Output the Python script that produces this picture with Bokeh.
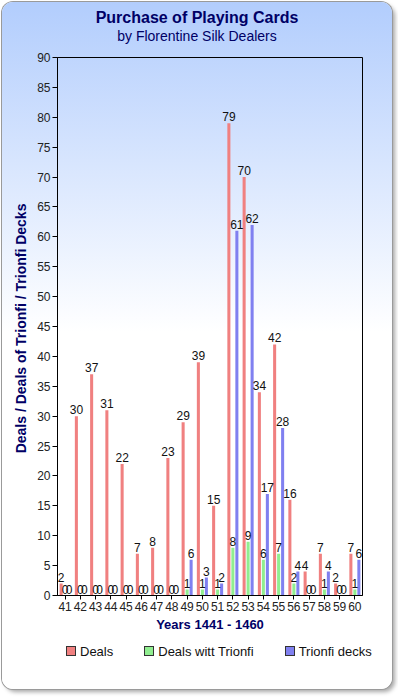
from bokeh.plotting import figure
from bokeh.layouts import column
from bokeh.models import (ColumnDataSource, FactorRange, Range1d, SingleIntervalTicker,
                          LabelSet, Div)
from bokeh.transform import dodge
from bokeh.core.properties import value
from bokeh.embed import file_html
from bokeh.resources import INLINE

# ---- data ----
years = ["41", "42", "43", "44", "45", "46", "47", "48", "49", "50",
         "51", "52", "53", "54", "55", "56", "57", "58", "59", "60"]
deals = [2, 30, 37, 31, 22, 7, 8, 23, 29, 39, 15, 79, 70, 34, 42, 16, 4, 7, 2, 7]
deals_trionfi = [0, 0, 0, 0, 0, 0, 0, 0, 1, 1, 1, 8, 9, 6, 7, 2, 0, 1, 0, 1]
trionfi_decks = [0, 0, 0, 0, 0, 0, 0, 0, 6, 3, 2, 61, 62, 17, 28, 4, 0, 4, 0, 6]
series_names = ["Deals", "Deals witt Trionfi", "Trionfi decks"]
colors = ["#f08080", "#90ee90", "#8080f0"]
title_text = "Purchase of Playing Cards"
subtitle_text = "by Florentine Silk Dealers"
x_label = "Years 1441 - 1460"
y_label = "Deals / Deals of Trionfi /  Trionfi Decks"

FONT = "Liberation Sans"
NAVY = "#000066"
W = 390
BL, BR = 55, 30   # side borders of the chart frame


def bare(fig):
    fig.background_fill_color = None
    fig.border_fill_color = None
    fig.outline_line_color = None
    fig.xgrid.visible = False
    fig.ygrid.visible = False
    return fig


# ---- title strip (its frame is aligned with the chart frame: map pixels 55..360) ----
t = bare(figure(width=W, height=47, output_backend="svg", toolbar_location=None,
                x_range=Range1d(BL, W - BR), y_range=Range1d(47, 0),
                x_axis_location=None, y_axis_location=None,
                min_border=0, min_border_left=BL, min_border_right=BR,
                min_border_top=0, min_border_bottom=0))
t.text(x=[W / 2 - 0.5], y=[15], text=[title_text], text_align="center", text_baseline="middle",
       text_font=value(FONT), text_font_size="16px", text_font_style="bold", text_color=NAVY)
t.text(x=[W / 2 - 0.5], y=[33], text=[subtitle_text], text_align="center", text_baseline="middle",
       text_font=value(FONT), text_font_size="14px", text_color=NAVY)

# ---- main chart ----
p = figure(x_range=FactorRange(*years, range_padding=0), y_range=Range1d(0, 90),
           width=W, height=588, output_backend="svg", toolbar_location=None,
           min_border_left=BL, min_border_right=BR, min_border_top=8, min_border_bottom=42)
bare(p)
p.outline_line_color = "black"
p.outline_line_alpha = 1

offsets = [-0.262, 0.0, 0.262]
for vals, off, col in zip([deals, deals_trionfi, trionfi_decks], offsets, colors):
    src = ColumnDataSource(dict(x=years, top=vals, lab=[str(v) for v in vals]))
    p.vbar(x=dodge("x", off, range=p.x_range), top="top", width=0.2, source=src,
           fill_color=col, line_color=None)
    ls = LabelSet(x=dodge("x", off, range=p.x_range), y="top", text="lab", source=src,
                  text_align="center", text_baseline="alphabetic", y_offset=2,
                  text_font=value(FONT), text_font_size=value("12px"),
                  text_color=value("#111111"))
    p.add_layout(ls)

p.yaxis.ticker = SingleIntervalTicker(interval=5, num_minor_ticks=0)
for ax in (p.xaxis[0], p.yaxis[0]):
    ax.axis_line_color = "black"
    ax.major_tick_line_color = "black"
    ax.major_tick_in = 0
    ax.minor_tick_line_color = None
    ax.major_label_text_font = FONT
    ax.major_label_text_font_size = "12px"
    ax.major_label_text_color = "#222222"
    ax.axis_label_text_font = FONT
    ax.axis_label_text_font_style = "bold"
    ax.axis_label_text_color = NAVY
p.yaxis.major_tick_out = 5
p.yaxis.major_label_standoff = 2
p.yaxis.axis_label = y_label
p.yaxis.axis_label_text_font_size = "14px"
p.yaxis.axis_label_standoff = 5
p.xaxis.major_tick_out = 4
p.xaxis.major_label_standoff = 2
p.xaxis.axis_label = x_label
p.xaxis.axis_label_text_font_size = "13px"
p.xaxis.axis_label_standoff = 3

# ---- legend strip (HTML, so it is not clipped to a plot frame) ----
item_html = []
for name, col in zip(series_names, colors):
    item_html.append(
        f'<span style="display:inline-flex;align-items:center;margin-right:31px;">'
        f'<span style="display:inline-block;box-sizing:border-box;width:10px;height:10px;'
        f'background:{col};border:1px solid #333333;margin-right:4px;"></span>'
        f'<span>{name}</span></span>')
legend_html = (
    f'<div style="display:flex;align-items:center;height:15px;padding-left:64px;'
    f'padding-top:13px;font-family:\'{FONT}\';font-size:13px;line-height:15px;'
    f'color:#111111;white-space:nowrap;">' + "".join(item_html) + '</div>')
lg = Div(text=legend_html, width=W, height=52, margin=0)

layout = column(t, p, lg, spacing=0)
layout.styles = {
    "background": "linear-gradient(to bottom, #b2cdfd 0%, #ffffff 48%, #ffffff 100%)",
    "border-radius": "11px",
    "box-shadow": "0 0 0 1px #9a9a9a, 3px 3px 4px rgba(0,0,0,0.35)",
    "margin-left": "2px",
    "margin-top": "2px",
}

open("out.html", "w").write(file_html(layout, INLINE))
